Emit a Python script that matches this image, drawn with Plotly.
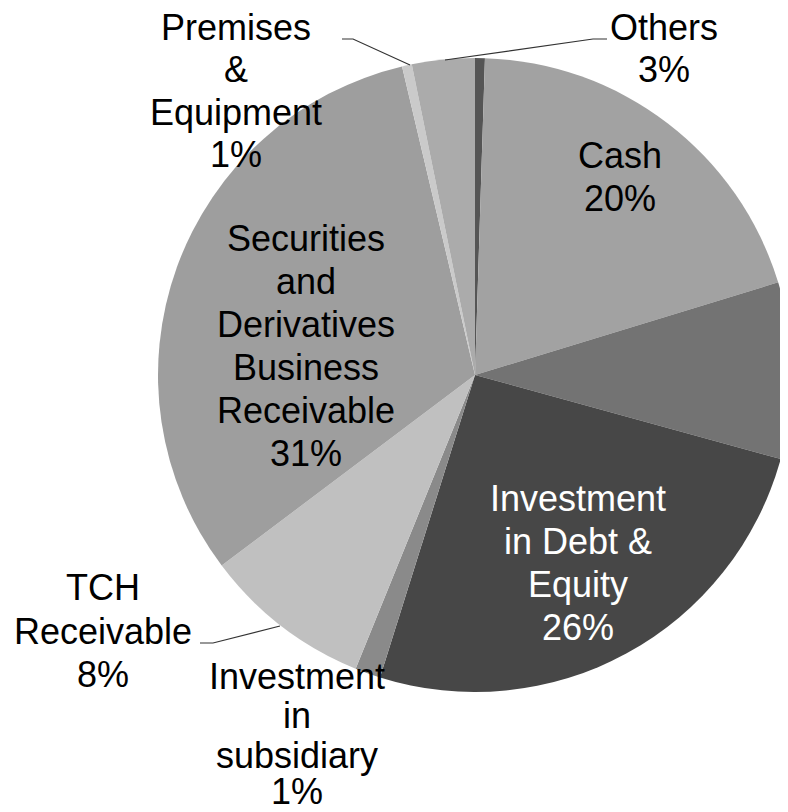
import plotly.graph_objects as go

W, H = 788, 812
OFF = 8  # default page body margin shifts the plot by this many pixels

# ---- data ----
labels = ["Unlabeled (dark)", "Cash", "Unlabeled (mid)", "Investment in Debt & Equity",
          "Investment in subsidiary", "TCH Receivable",
          "Securities and Derivatives Business Receivable",
          "Premises & Equipment", "Others"]
values = [0.5, 19.8, 9.0, 25.6, 1.3, 8.6, 31.6, 0.5, 3.2]
colors = ["#555555", "#a2a2a2", "#737373", "#474747", "#8a8a8a",
          "#c0c0c0", "#9e9e9e", "#cacaca", "#ababab"]

# displayed label lines and percentages
label_lines = [
    ["Cash"],
    ["Investment", "in Debt &", "Equity"],
    ["Investment", "in", "subsidiary"],
    ["TCH", "Receivable"],
    ["Securities", "and", "Derivatives", "Business", "Receivable"],
    ["Premises", "&", "Equipment"],
    ["Others"],
]
label_pct = ["20%", "26%", "1%", "8%", "31%", "1%", "3%"]
label_color = ["black", "white", "black", "black", "black", "black", "black"]
# label x centre and y centres of each line (pixels from top-left)
label_x = [620, 578, 297, 103, 306, 236, 664]
label_y = [
    [155.5, 198.5],
    [498.5, 541.5, 584.5, 627.5],
    [676, 715, 755, 791],
    [587, 631, 674],
    [238, 281, 324, 367, 410, 453],
    [27, 70, 112, 155],
    [27, 70],
]

# leader lines (pixel polylines)
leaders = [
    [(607, 39), (593, 39), (445, 60)],     # Others
    [(342, 39), (353, 39), (410, 65)],     # Premises
    [(200, 643), (213, 643), (280, 626)],  # TCH
]

def px(x):
    return (x - OFF) / W

def py(y):
    return 1 - (y - OFF) / H

cx, cy, r = 475, 375, 317
fig = go.Figure(go.Pie(
    labels=labels, values=values, sort=False, direction="clockwise", rotation=0,
    marker=dict(colors=colors, line=dict(width=0)),
    textinfo="none", hoverinfo="label+percent", showlegend=False,
    domain=dict(x=[px(cx - r), px(cx + r)], y=[py(cy + r), py(cy - r)]),
))

for lines, p, c, x, ys in zip(label_lines, label_pct, label_color, label_x, label_y):
    for t, y in zip(lines + [p], ys):
        fig.add_annotation(x=px(x), y=py(y), xref="paper", yref="paper",
                           text=t, showarrow=False, align="center",
                           xanchor="center", yanchor="middle",
                           font=dict(family="Liberation Sans, Arial", size=36, color=c))

for pts in leaders:
    path = "M " + " L ".join(f"{px(x)} {py(y)}" for x, y in pts)
    fig.add_shape(type="path", path=path, xref="paper", yref="paper",
                  line=dict(color="#333333", width=1.2))

fig.update_layout(width=W, height=H, margin=dict(l=0, r=0, t=0, b=0),
                  paper_bgcolor="white", plot_bgcolor="white")

fig.write_html("out.html")
